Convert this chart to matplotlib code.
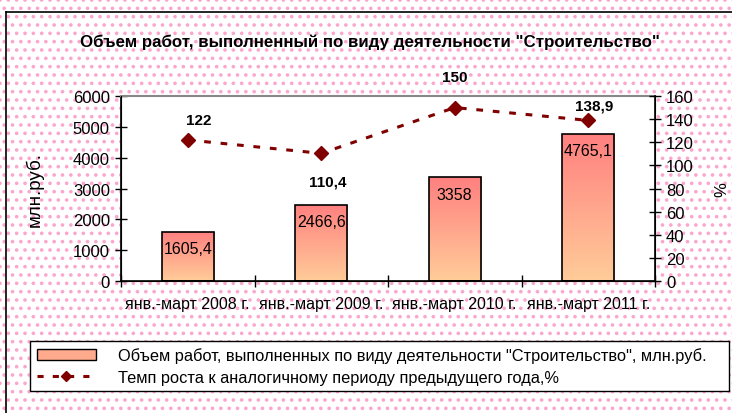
"""Construction volume bars with growth-rate line on a twin axis."""

import matplotlib.pyplot as plt
import numpy as np
from matplotlib.lines import Line2D
from matplotlib.patches import Patch, Rectangle

periods = ["янв.-март 2008 г.", "янв.-март 2009 г.", "янв.-март 2010 г.", "янв.-март 2011 г."]
volume = [1605.4, 2466.6, 3358.0, 4765.1]
volume_labels = ["1605,4", "2466,6", "3358", "4765,1"]
growth = [122.0, 110.4, 150.0, 138.9]
growth_labels = ["122", "110,4", "150", "138,9"]
growth_offsets = [(8, 14), (5, -20), (0, 22), (4, 11)]

title = 'Объем работ, выполненный по виду деятельности "Строительство"'
bar_name = 'Объем работ, выполненных по виду деятельности "Строительство", млн.руб.'
line_name = "Темп роста к аналогичному периоду предыдущего года,%"

plt.rcParams["font.family"] = ["Liberation Sans", "DejaVu Sans"]
plt.rcParams["hatch.linewidth"] = 1.4

W, H = 732, 414
fig = plt.figure(figsize=(W / 100, H / 100), dpi=100)

# dotted pink backdrop + frame
fig.patches.append(Rectangle((0, 0), 1, 1, transform=fig.transFigure, facecolor="white",
                             edgecolor="#FBA6CF", hatch="..", linewidth=0, zorder=-10))
fig.add_artist(Line2D([6 / W, 6 / W], [0, 1 - 13 / H], color="black", lw=1.2))
fig.add_artist(Line2D([6 / W, 1], [1 - 13 / H, 1 - 13 / H], color="black", lw=1.2))

ax = fig.add_axes([121 / W, 1 - 282 / H, 534 / W, 185 / H])
ax.set_facecolor("white")
x = np.arange(len(periods))
bars = ax.bar(x, volume, width=0.39, color="none", edgecolor="black", linewidth=1.2, zorder=3)

grad = np.linspace(0, 1, 256).reshape(-1, 1)
top_c = np.array([255, 128, 128]) / 255
bot_c = np.array([255, 204, 153]) / 255
img = top_c * (1 - grad[..., None]) + bot_c * grad[..., None]
img = img.reshape(256, 1, 3)
for b in bars:
    bx, by, bw, bh = b.get_x(), b.get_y(), b.get_width(), b.get_height()
    im = ax.imshow(img, extent=[bx, bx + bw, by, by + bh], aspect="auto", zorder=2,
                   interpolation="bilinear")
    im.set_clip_path(b)

for b, lab in zip(bars, volume_labels):
    ax.annotate(lab, (b.get_x() + b.get_width() / 2, b.get_height()), xytext=(0, -12),
                textcoords="offset points", ha="center", va="center", fontsize=11.5, zorder=5)

ax.set_xlim(-0.5, len(periods) - 0.5)
ax.set_ylim(0, 6000)
ax.set_yticks(range(0, 6001, 1000))
ax.set_xticks(x)
ax.set_xticklabels(periods, fontsize=11.5)
ax.set_xticks(np.arange(-0.5, len(periods), 1), minor=True)
ax.tick_params(axis="x", which="major", length=0, pad=11)
ax.tick_params(axis="x", which="minor", direction="inout", length=8, width=1)
ax.tick_params(axis="y", direction="inout", length=8, width=1, labelsize=12, pad=4)
ax.set_ylabel("млн.руб.", fontsize=13.5)
ax.yaxis.set_label_coords(-0.144, 0.5)
ax.spines["top"].set_color("#888888")
ax.spines["top"].set_linewidth(1.5)
for s in ("left", "bottom"):
    ax.spines[s].set_linewidth(1.2)

ax2 = ax.twinx()
ax2.plot(x, growth, color="#800000", linestyle=(0, (2.2, 3.2)), linewidth=2.2,
         marker="D", markersize=7, zorder=4)
for xi, g, lab, off in zip(x, growth, growth_labels, growth_offsets):
    ax2.annotate(lab, (xi, g), xytext=off, textcoords="offset points", ha="center",
                 va="center", fontsize=11, fontweight="bold")
ax2.set_ylim(0, 160)
ax2.set_yticks(range(0, 161, 20))
ax2.tick_params(axis="y", direction="inout", length=8, width=1, labelsize=12, pad=4)
ax2.set_ylabel("%", fontsize=12)
ax2.yaxis.set_label_coords(1.112, 0.5)
ax2.spines["right"].set_linewidth(1.2)
ax2.spines["top"].set_visible(False)

fig.text(0.505, 1 - 42 / H, title, ha="center", va="center", fontsize=12.2, fontweight="bold")

handles = [
    Patch(facecolor="#FFAA8C", edgecolor="black", linewidth=1),
    Line2D([], [], color="#800000", linestyle=(0, (2, 3)), linewidth=2.2, marker="D", markersize=5),
]
leg = fig.legend(handles, [bar_name, line_name], loc="upper left",
                 bbox_to_anchor=(30 / W, 1 - 392 / H, 699 / W, 50 / H), mode="expand",
                 fontsize=11.8, frameon=True, fancybox=False, borderaxespad=0,
                 handlelength=3.6, handleheight=0.7, handletextpad=1.4,
                 labelspacing=0.4, borderpad=0.4)
leg.get_frame().set_edgecolor("black")
leg.get_frame().set_linewidth(1)
leg.get_frame().set_facecolor("white")
leg.get_frame().set_alpha(1)

fig.savefig("out.png", dpi=100)
